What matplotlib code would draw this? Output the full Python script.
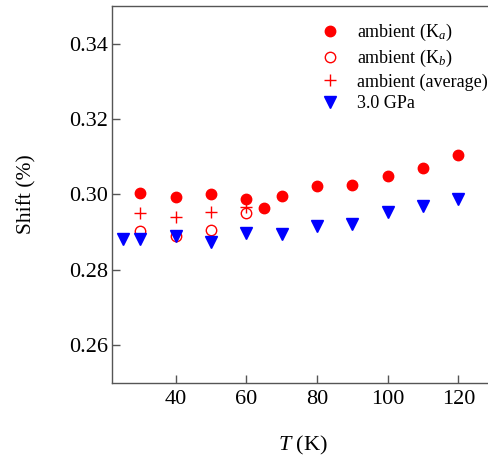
import matplotlib
matplotlib.use("Agg")
import matplotlib.pyplot as plt

plt.rcParams['font.family'] = ['Liberation Serif', 'DejaVu Serif']
plt.rcParams['mathtext.fontset'] = 'custom'
plt.rcParams['mathtext.rm'] = 'Liberation Serif'
plt.rcParams['mathtext.it'] = 'Liberation Serif:italic'

# ambient, K_a (filled circles)
T_a = [30, 40, 50, 60, 65, 70, 80, 90, 100, 110, 120]
shift_a = [0.3003, 0.2993, 0.3000, 0.2989, 0.2964, 0.2996, 0.3022, 0.3025, 0.3050, 0.3070, 0.3106]

# ambient, K_b (open circles)
T_b = [30, 40, 50, 60]
shift_b = [0.2902, 0.2889, 0.2907, 0.2950]

# ambient average (crosses)
T_avg = [30, 40, 50, 60]
shift_avg = [0.2950, 0.2941, 0.2954, 0.2968]

# 3.0 GPa (down triangles)
T_p = [25, 30, 40, 50, 60, 70, 80, 90, 100, 110, 120]
shift_p = [0.2882, 0.2882, 0.2889, 0.2875, 0.2899, 0.2895, 0.2916, 0.2922, 0.2953, 0.2969, 0.2988]

fig = plt.figure(figsize=(4.88, 4.59), dpi=100)
ax = fig.add_axes([0.2295, 0.1656, 0.7824, 0.8214])

ax.plot(T_a, shift_a, 'o', color='#ff0000', markersize=7.5, linestyle='None',
        label=r'ambient (K$_a$)')
ax.plot(T_b, shift_b, 'o', markerfacecolor='none', markeredgecolor='#ff0000',
        markeredgewidth=1.0, markersize=7.5, linestyle='None', label=r'ambient (K$_b$)')
ax.plot(T_avg, shift_avg, '+', color='#ff0000', markersize=8, markeredgewidth=1.0,
        linestyle='None', label='ambient (average)')
ax.plot(T_p, shift_p, 'v', color='#0000ff', markersize=8, linestyle='None',
        label='3.0 GPa')

ax.set_xlim(22, 130)
ax.set_ylim(0.25, 0.35)
ax.set_xticks([40, 60, 80, 100, 120])
ax.set_yticks([0.26, 0.28, 0.30, 0.32, 0.34])
ax.set_yticklabels(['0.26', '0.28', '0.30', '0.32', '0.34'])

for sp in ax.spines.values():
    sp.set_color('#555555')
    sp.set_linewidth(1.0)
ax.tick_params(direction='in', length=6, width=1.0, color='#555555', labelsize=16)
ax.tick_params(axis='x', pad=5)
ax.tick_params(axis='y', pad=3)

ax.set_xlabel(r'$T$ (K)', fontsize=16, labelpad=18)
ax.set_ylabel('Shift (%)', fontsize=15.5, labelpad=23)

ax.legend(loc='upper left', bbox_to_anchor=(0.482, 1.0), frameon=False,
          fontsize=13, handletextpad=0.5, labelspacing=0.25, borderpad=0.4)

fig.savefig('out.png', dpi=100)
